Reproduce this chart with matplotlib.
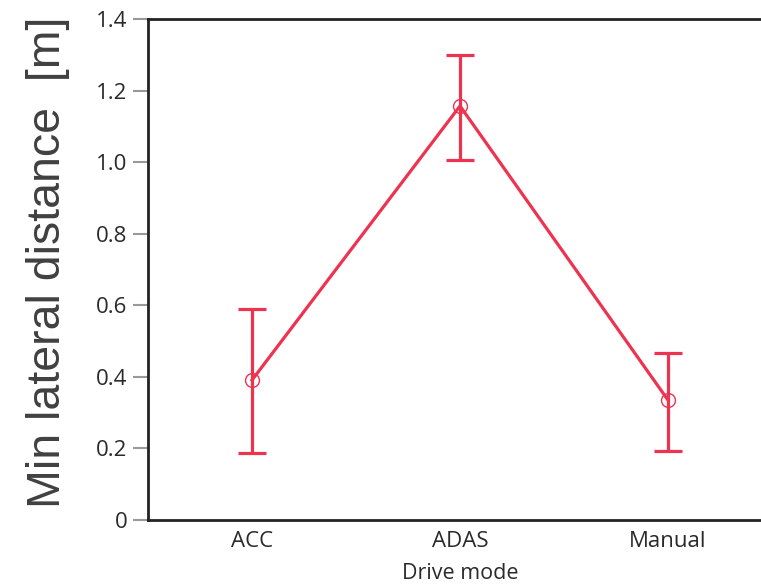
import matplotlib
matplotlib.use("Agg")
import matplotlib.pyplot as plt

categories = ["ACC", "ADAS", "Manual"]
means = [0.391, 1.157, 0.335]
upper = [0.590, 1.300, 0.467]
lower = [0.188, 1.006, 0.193]
yticks = [0, 0.2, 0.4, 0.6, 0.8, 1.0, 1.2, 1.4]
ytick_labels = ["0", "0.2", "0.4", "0.6", "0.8", "1.0", "1.2", "1.4"]

W, H = 761, 585
fig = plt.figure(figsize=(W / 100, H / 100), dpi=100)
ax = fig.add_axes([148 / W, 1 - 520 / H, (772 - 148) / W, (520 - 19) / H])

color = "#EE3350"
x = list(range(len(categories)))
yerr = [[m - l for m, l in zip(means, lower)], [u - m for u, m in zip(upper, means)]]
ax.errorbar(x, means, yerr=yerr, fmt="none", ecolor=color, elinewidth=2.3,
            capsize=10, capthick=2.3)
ax.plot(x, means, color=color, lw=2.3, marker="o", markersize=10,
        markerfacecolor="none", markeredgecolor=color, markeredgewidth=1.0)

ax.set_xlim(-0.5, 2.5)
ax.set_ylim(0, 1.4)
ax.set_yticks(yticks)
ax.set_yticklabels(ytick_labels)
ax.set_xticks(x)
ax.set_xticklabels(categories)

ax.spines["right"].set_visible(False)
for s in ["left", "bottom", "top"]:
    ax.spines[s].set_linewidth(2.0)
    ax.spines[s].set_color("#222222")

ax.tick_params(axis="y", length=11, width=1.5, color="#999999", labelsize=16,
               labelcolor="#2a2a2a", pad=4)
ax.tick_params(axis="x", length=0, labelsize=16, labelcolor="#2a2a2a", pad=8)
for lab in ax.get_xticklabels() + ax.get_yticklabels():
    lab.set_family("Open Sans")

ax.set_xlabel("Drive mode", fontsize=15.5, family="Open Sans", color="#2a2a2a", labelpad=8)
fig.text(48 / W, 1 - 262 / H, "Min lateral distance  [m]", rotation=90,
         fontsize=33.5, family="Liberation Sans", color="#404040",
         ha="center", va="center")

fig.savefig("out.png", dpi=100)
